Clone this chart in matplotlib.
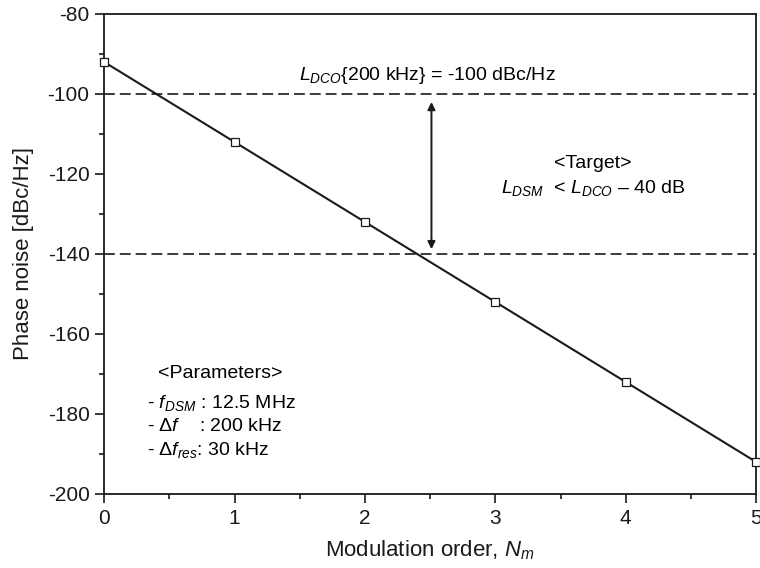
import matplotlib
matplotlib.use("Agg")
import matplotlib.pyplot as plt
from matplotlib.ticker import MultipleLocator

plt.rcParams['font.family'] = ['Liberation Sans', 'DejaVu Sans']
plt.rcParams['mathtext.fontset'] = 'custom'
plt.rcParams['mathtext.rm'] = 'Liberation Sans'
plt.rcParams['mathtext.it'] = 'Liberation Sans:italic'
plt.rcParams['mathtext.sf'] = 'Liberation Sans'
plt.rcParams['axes.unicode_minus'] = False

# Phase noise vs. modulation order
orders = [0, 1, 2, 3, 4, 5]
phase_noise = [-92, -112, -132, -152, -172, -192]
dco_level = -100
target_level = -140
x_ticks = [0, 1, 2, 3, 4, 5]
y_ticks = [-80, -100, -120, -140, -160, -180, -200]

ink = '#1a1a1a'
fig = plt.figure(figsize=(7.6, 5.68), dpi=100)
ax = fig.add_axes([0.137, 0.1303, 0.858, 0.8451])

ax.plot(orders, phase_noise, color=ink, lw=1.5, marker='s', ms=5.5,
        mfc='white', mec=ink, mew=0.9, clip_on=False, zorder=3)

ax.axhline(dco_level, color=ink, lw=1.2, ls=(0, (6.5, 3)))
ax.axhline(target_level, color=ink, lw=1.2, ls=(0, (6.5, 3)))

# 40 dB margin between the DCO level and the target
ax.annotate('', xy=(2.51, target_level + 1.2), xytext=(2.51, dco_level - 2),
            arrowprops=dict(arrowstyle='<|-|>', color=ink, lw=1.4,
                            mutation_scale=11, shrinkA=0, shrinkB=0))

fs = 14
ax.text(2.48, -95.3, r'$L_{DCO}$' + '{200 kHz} = -100 dBc/Hz',
        ha='center', va='center', fontsize=fs)
ax.text(3.75, -117.3, '<Target>', ha='center', va='center', fontsize=fs)
ax.text(3.75, -123.5, r'$L_{DSM}$' + '  < ' + r'$L_{DCO}$' + ' – 40 dB',
        ha='center', va='center', fontsize=fs)

ax.text(0.89, -170.0, '<Parameters>', ha='center', va='center', fontsize=fs)
ax.text(0.33, -177.3, '- ' + r'$f_{DSM}$' + ' : 12.5 MHz', ha='left', va='center', fontsize=fs)
ax.text(0.33, -183.2, '- ' + r'$\Delta f$' + '    : 200 kHz', ha='left', va='center', fontsize=fs)
ax.text(0.33, -189.0, '- ' + r'$\Delta f_{res}$' + ': 30 kHz', ha='left', va='center', fontsize=fs)

ax.set_xlim(0, 5)
ax.set_ylim(-200, -80)
ax.set_xticks(x_ticks)
ax.set_yticks(y_ticks)
ax.xaxis.set_minor_locator(MultipleLocator(0.5))
ax.yaxis.set_minor_locator(MultipleLocator(10))
ax.tick_params(which='major', direction='out', length=6.5, width=1.2,
               labelsize=15, pad=4, colors=ink, top=False, right=False)
ax.tick_params(which='minor', direction='out', length=3.5, width=1.2,
               top=False, right=False, colors=ink)
for s in ax.spines.values():
    s.set_linewidth(1.3)
    s.set_color(ink)

ax.set_xlabel('Modulation order, ' + r'$N_m$', fontsize=16, labelpad=8, color=ink)
ax.set_ylabel('Phase noise [dBc/Hz]', fontsize=16, labelpad=10, color=ink)

fig.savefig('out.png', dpi=100)
